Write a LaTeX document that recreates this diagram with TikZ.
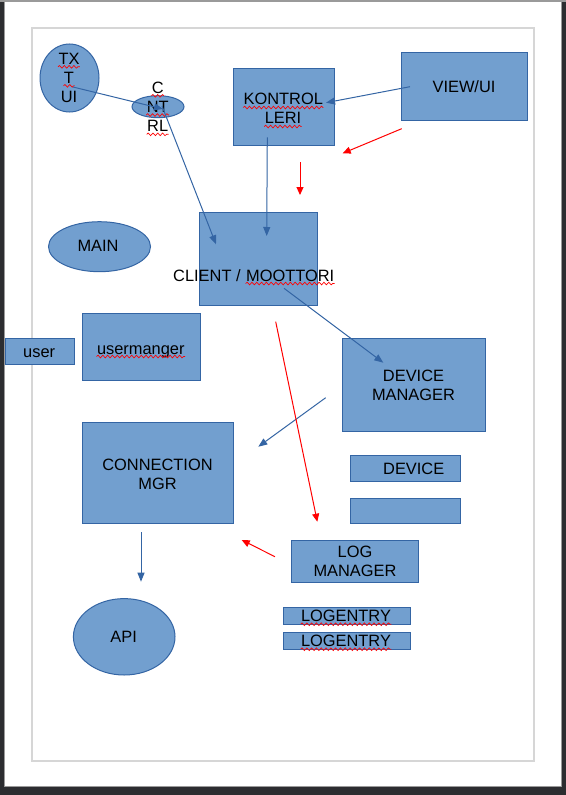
\documentclass[tikz,border=0pt]{standalone}
\usepackage{fontspec}
\setmainfont{Liberation Sans}
\usetikzlibrary{shapes.geometric,arrows.meta,decorations.pathmorphing}

\definecolor{fillblue}{HTML}{729FCF}
\definecolor{lineblue}{HTML}{3465A4}
\definecolor{framedark}{HTML}{2C2D30}
\definecolor{pageedge}{HTML}{9A9A9A}
\definecolor{marginline}{HTML}{D6D6D6}

\tikzset{every picture/.style={line width=0.75pt}}
\tikzset{
  boxsize/.style 2 args={minimum width=#1*0.75pt, minimum height=#2*0.75pt},
  block/.style={draw=lineblue, fill=fillblue, inner sep=0pt, outer sep=0pt},
  blob/.style={block, ellipse},
  txt/.style={font=\fontsize{12.3}{14.25}\selectfont, inner sep=0pt, anchor=base, align=center},
  flow/.style={draw=lineblue, -{Triangle[length=6.75pt,width=5.25pt]}},
  flowred/.style={draw=red, -{Triangle[length=6pt,width=5.25pt]}},
  spell/.style={draw=red, line width=0.5pt, decorate, decoration={snake, amplitude=1pt, segment length=3.6pt}}
}

\begin{document}
\begin{tikzpicture}[x=0.75pt,y=0.75pt,yscale=-1,xscale=1]
\useasboundingbox (0,0) rectangle (566,795);

%Window frame
\fill [framedark] (0,0) rectangle (566,795);
\fill [pageedge] (0,0) rectangle (566,2);
\draw [pageedge, fill=white] (4.5,2) rectangle (561.5,786);
%Page margins
\draw [marginline, line width=1.1pt] (32,28) rectangle (534,761);

%Shape: Ellipse
\node [blob, boxsize={59}{68}] (txtui) at (69.5,78) {};
%Shape: Ellipse
\node [blob, boxsize={52}{22}] (cntrl) at (158,106.7) {};
%Shape: Rectangle
\node [block, boxsize={101}{77}] (kontrol) at (283.5,107.5) {};
%Shape: Rectangle
\node [block, boxsize={126}{68}] (view) at (464,87) {};
%Shape: Ellipse
\node [blob, boxsize={102}{50}] (main) at (99.5,246.7) {};
%Shape: Rectangle
\node [block, boxsize={118}{92.7}] (client) at (258.3,258.7) {};
%Shape: Rectangle
\node [block, boxsize={69}{25.7}] (user) at (39.5,351.2) {};
%Shape: Rectangle
\node [block, boxsize={117.7}{67.4}] (usermgr) at (141.2,347) {};
%Shape: Rectangle
\node [block, boxsize={143.4}{92.7}] (devmgr) at (414,384.7) {};
%Shape: Rectangle
\node [block, boxsize={151}{101}] (connmgr) at (157.8,472.8) {};
%Shape: Rectangle
\node [block, boxsize={110}{26}] (device) at (405.7,468.7) {};
%Shape: Rectangle
\node [block, boxsize={110}{25}] (spare) at (405.7,510.8) {};
%Shape: Rectangle
\node [block, boxsize={126.6}{42.3}] (logmgr) at (355,561.2) {};
%Shape: Rectangle
\node [block, boxsize={126.7}{17}] (logentry1) at (346.7,615.8) {};
%Shape: Rectangle
\node [block, boxsize={126.7}{17}] (logentry2) at (346.7,640.8) {};
%Shape: Ellipse
\node [blob, boxsize={101.6}{76.4}] (api) at (124.2,636.8) {};

% Text Node
\node [txt] (tx-l1) at (69,64.3) {TX};
\node [txt] (tx-l2) at (69,83.3) {T};
\node [txt] (tx-l3) at (69,102.3) {UI};
% Text Node
\node [txt] (ct-l1) at (157.8,93.3) {C};
\node [txt] (ct-l2) at (157.7,112.5) {NT};
\node [txt] (ct-l3) at (157.7,131.8) {RL};
% Text Node
\node [txt] (kt-l1) at (283.3,105) {KONTROL};
\node [txt] (kt-l2) at (283,124) {LERI};
% Text Node
\node [txt] (view-txt) at (464,92.3) {VIEW/UI};
% Text Node
\node [txt] (main-txt) at (98,251.5) {MAIN};
% Text Node
\node [txt, anchor=base west] (client-txt) at (172.7,281) {CLIENT /};
\node [txt, anchor=base west] (moottori) at ([xshift=3.4pt]client-txt.base east) {MOOTTORI};
% Text Node
\node [txt] (user-txt) at (39.2,357.3) {user};
% Text Node
\node [txt] (usermgr-txt) at (140.8,354) {usermanger};
% Text Node (base = last line)
\node [txt] (devmgr-txt) at (413.5,400) {DEVICE\\MANAGER};
% Text Node
\node [txt] (connmgr-txt) at (157.5,489) {CONNECTION\\MGR};
% Text Node
\node [txt] (device-txt) at (413.7,474) {DEVICE};
% Text Node
\node [txt] (logmgr-txt) at (355,576.7) {LOG\\MANAGER};
% Text Node
\node [txt] (le1-txt) at (346,621.7) {LOGENTRY};
\node [txt] (le2-txt) at (346,646.7) {LOGENTRY};
% Text Node
\node [txt] (api-txt) at (123.7,642) {API};

%spelling marks
\foreach \w in {tx-l1,tx-l2,ct-l1,ct-l2,ct-l3,kt-l1,kt-l2,moottori,usermgr-txt,le1-txt,le2-txt}
  \draw [spell] ([yshift=1.9pt]\w.base west) -- ([yshift=1.9pt]\w.base east);

%arrow ends
\coordinate (txtui-out) at (73,87);
\coordinate (cntrl-in) at (163,109);
\coordinate (cntrl-out) at (162,106);
\coordinate (client-in1) at (216,244.3);
\coordinate (view-out) at (410,86.7);
\coordinate (kontrol-in) at (326,102.7);
\coordinate (kontrol-out) at (267.3,137.3);
\coordinate (client-in2) at (266.7,236);
\coordinate (client-out) at (284,288.3);
\coordinate (devmgr-in) at (383.3,362.7);
\coordinate (devmgr-out) at (325.7,397.7);
\coordinate (connmgr-in) at (258.3,446.7);
\coordinate (connmgr-out) at (141,532.3);
\coordinate (api-in) at (141,581.7);
\coordinate (red1-a) at (401.7,128.7);
\coordinate (red1-b) at (342.7,153.3);
\coordinate (red2-a) at (300,162.3);
\coordinate (red2-b) at (300,195);
\coordinate (red3-a) at (275.7,321.7);
\coordinate (red3-b) at (317.3,521.7);
\coordinate (red4-a) at (275,556.7);
\coordinate (red4-b) at (241.7,540);

%Straight Lines
\draw [flow] (txtui-out) -- (cntrl-in);
\draw [flow] (cntrl-out) -- (client-in1);
\draw [flow] (view-out) -- (kontrol-in);
\draw [flow] (kontrol-out) -- (client-in2);
\draw [flow] (client-out) -- (devmgr-in);
\draw [flow] (devmgr-out) -- (connmgr-in);
\draw [flow] (connmgr-out) -- (api-in);
%Straight Lines
\draw [flowred] (red1-a) -- (red1-b);
\draw [flowred] (red2-a) -- (red2-b);
\draw [flowred] (red3-a) -- (red3-b);
\draw [flowred] (red4-a) -- (red4-b);

\end{tikzpicture}
\end{document}
